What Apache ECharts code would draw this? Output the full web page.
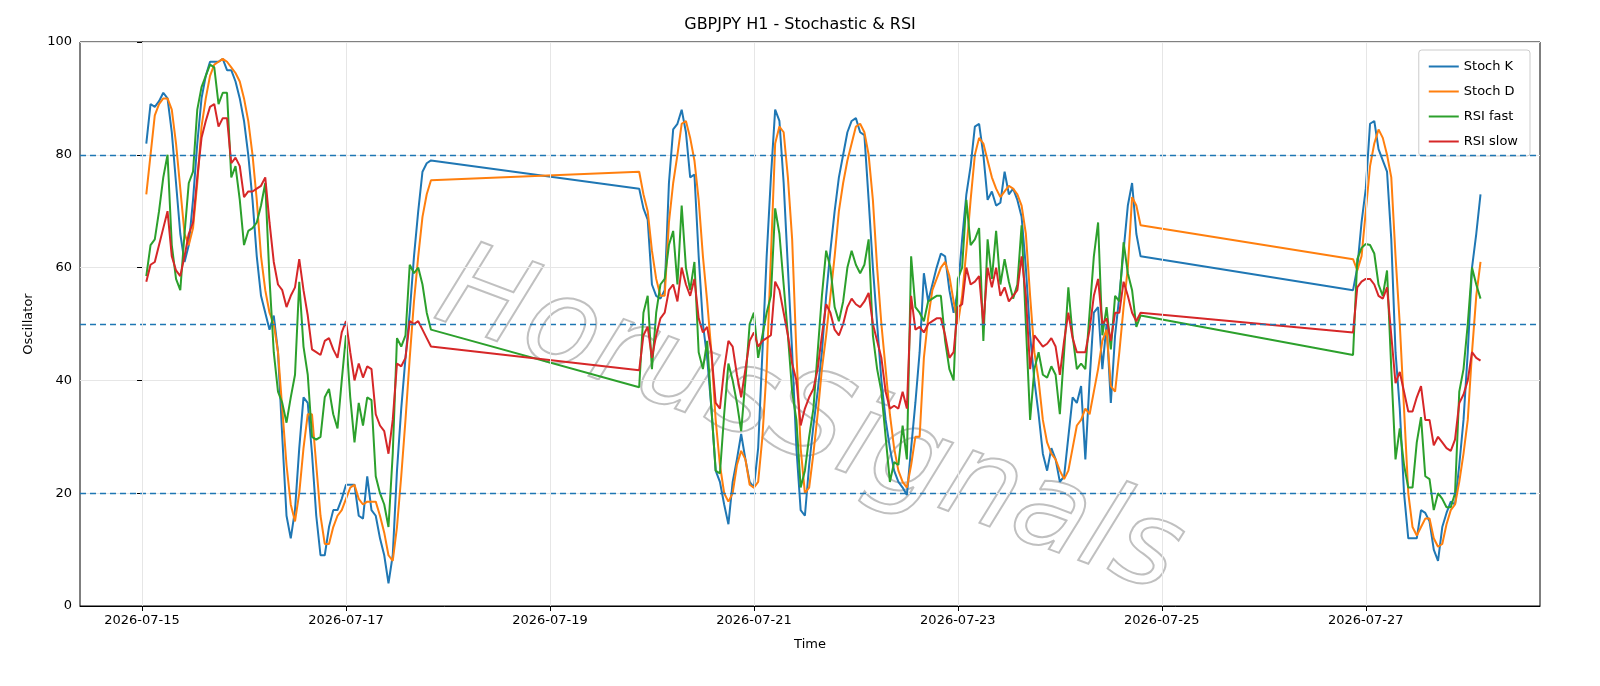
<!DOCTYPE html>
<html><head><meta charset="utf-8">
<script src="https://cdn.jsdelivr.net/npm/echarts@6/dist/echarts.min.js"></script>
<style>html,body{margin:0;padding:0;background:#fff}#c{width:1600px;height:686px}</style>
</head><body><div id="c"></div>
<script>
// hour offsets from 2026-07-15 00:00 of the first bar of each segment (hourly bars)
const segStarts = [1, 117, 285];
const dateTicks = ['2026-07-15','2026-07-17','2026-07-19','2026-07-21','2026-07-23','2026-07-25','2026-07-27'];
const levels = [20, 50, 80];

const stochK1 = [82,89,88.5,89.5,91,90,84,75,66,61,64,72,82,90,94,96.5,96.5,96.5,97,95,95,93,90,86,80,72,62,55,52,49,51.5,45,30,16,12,17,28,37,36,27,16,9,9,14,17,17,19,21.5,21.5,21.5,16,15.5,23,17,16,12,9,4,9,24,35,44,52,62,70,77,78.5,79];
const stochD1 = [73,80,87,89,90,90,88,82,74,66,64,67,75,85,90,94,96,96.5,97,96.5,95.5,94.5,93,90,86,80,72,62,56,52,50,45,35,25,18,15,20,28,34,34,25,16,11,11,14,16,17,19,21,21.5,19,18,18.5,18.5,18.5,16,13,9,8,14,23,33,44,54,62,69,73,75.5];
const rsiFast1 = [58.5,64,65,70,76,80,64,58,56,66,75,77,88,92,94,96,95.5,89,91,91,76,78,72,64,66.5,67,68,71,75,58,45,38,36,32.5,37,41,57.5,46,41,30,29.5,30,37,38.5,34,31.5,40,48,37,29,36,32,37,36.5,23,20,18,14,27,47.5,46,48,60.5,59,60,57,52,49];
const rsiSlow1 = [57.5,60.5,61,64,67,70,62,59.5,58.5,62,66,68,76,83,86,88.5,89,85,86.5,86.5,78.5,79.5,78,72.5,73.5,73.5,74,74.5,76,68,61,57,56,53,55,56.5,61.5,56,51.5,45.5,45,44.5,47,47.5,45.5,44,48.5,50.5,45,40,43,40.5,42.5,42,34,32,31,27,33,43,42.5,44,50.5,50,50.5,49,47.5,46];

const stochK2 = [74,70.5,68.5,57,55,54.5,56,75,84.5,85.5,88,84,76,76.5,62,50,44,35,24,22,18,14.5,22,26,30.5,26,22,21,28,
 45,62,76,88,86,75,60,45,28,17,16,25,32,38,45,55,63,70,76,80,84,86,86.5,84,83.5,72,60,50,40,33,28,24,22,21,19.7,28,36,
 45,59,54,57,60,62.5,62,56,52,56,65,73,78,85,85.5,80,72,73.5,71,71.5,77,73,74,72,69,60,48,40,34,27,24,28,26,22,23,30,37,36,
 39,26,40,52,53,42,50,36,48,55,63,71,75,66,62];
const stochD2 = [77,73,70,63,58,55,55,68,75,80,85.5,86,83,79,72,62,54,45,33,25,20,18.5,20,25,27.5,26,21.5,21,22,
 30,42,62,82,85,84,76,65,45,28,20,21,27,34,42,48,55,62,70,75,79,82,85,85.5,84,80,72,60,50,42,34,28,24,22,21,25,30,
 30,44,51,56,58,60,61,58.5,54,50,55,63,72,80,83,82,79,76,74,72.5,73.5,74.5,74,73,71,66,55,45,40,33,29,27,26,24,22.5,24,28,32,
 33,35,34,38,42,47,49,39,38,45,53,60,72.5,71,67.5];
const rsiFast2 = [38.8,52,55,42,52,57,58,64,66.5,57,71,60,56,61,45,42,47,35,24,23.5,34,43,40,36,31,40,50,52,44,
 48,52,55,70.5,66,57,48,38,33,21,24,30,35,45,55,63,60,53,50.5,54,60,63,60.5,59,60.5,65,48,42,38,30,22,25.5,25,32,26,62,53,
 52,50.5,54,54.5,55,55,47,42,40,58,60,72,64,65,67,47,65,58,66.5,57,61.5,57.5,54.5,57,67.5,50,33,42,45,41,40.5,42.5,41,34,45,56.5,48,42,
 43,42,52,62,68,48,53,45.5,55,54,64.5,59,56,49.5,51.5];
const rsiSlow2 = [41.8,48,49.5,44,48,51,52,56,57,54,60,57,55,58,51,48.5,49.5,45,36,35,42,47,46,41,37,42,47,48.5,46,
 47,47.5,48,57.5,56,52,48,43,40,32,35,37,38.5,42,48,53.5,52,49,48,50,53,54.5,53.5,53,54,55.5,50,47,44,38,35,35.5,35,38,35,55,49,
 49.5,48.5,50,50.5,51,51,48,44,45,53,53.5,60,57,57.5,58.5,50,60,56.5,60,55,56.5,54,55,56,62,55,42,48,47,46,46.5,47.5,46,41,47,52,47.5,45,
 45,45,49,55,58,50,51,47,52,52,57.5,55,52,50.5,52];

const stochK3 = [56,60,68,74,85.5,86,81,79,77,65,45,35,20,12,12,12,17,16.5,15,10,8,14,16.5,18.5,18,25,33,45,60,66,73];
const stochD3 = [61.5,59.5,62,70,78,82,84.5,83,80,76,62,50,35,20,14,12.5,14,15.5,15.5,12,10.5,11,14.5,17,18,22,27,33,45,55,61];
const rsiFast3 = [44.5,61.5,63.5,64.2,64,62.5,57,55,59.5,42,26,31.5,25,21,21,29,33.5,23,22.5,17,20,19,17.5,17.5,20,38,42,50,60,57,54.5];
const rsiSlow3 = [48.5,56.5,57.5,58,58,57,55,54.5,56.5,48,39.5,41.5,38,34.5,34.5,37,39,33,33,28.5,30,29,28,27.5,29.5,36,37.5,40,45,44,43.5];

function build(segs){
  const out=[];
  segs.forEach((arr,si)=>arr.forEach((v,i)=>out.push([segStarts[si]+i, v])));
  return out;
}
const base = Date.UTC(2026,6,15);
function fmt(h){const d=new Date(base+h*3600000);return d.getUTCFullYear()+'-'+String(d.getUTCMonth()+1).padStart(2,'0')+'-'+String(d.getUTCDate()).padStart(2,'0');}
const tickHours = dateTicks.map(s=>{const p=s.split('-');return (Date.UTC(+p[0],+p[1]-1,+p[2])-base)/3600000;});

const chart = echarts.init(document.getElementById('c'));
const lineW = 2;
chart.setOption({
  animation:false,
  backgroundColor:'#fff',
  title:{text:'GBPJPY H1 - Stochastic & RSI',left:'center',top:12,textStyle:{fontSize:16,fontWeight:'normal',color:'#000',fontFamily:'DejaVu Sans'}},
  grid:{left:80,right:60,top:42,bottom:80,show:true,borderColor:'#000',borderWidth:1,backgroundColor:'transparent'},
  legend:{orient:'vertical',right:70,top:50,data:['Stoch K','Stoch D','RSI fast','RSI slow'],icon:'rect',itemWidth:30,itemHeight:2,itemGap:12,
    borderColor:'#ccc',borderWidth:1,borderRadius:3,padding:[10,12,8,10],backgroundColor:'rgba(255,255,255,0.85)',
    textStyle:{fontSize:13,color:'#000',fontFamily:'DejaVu Sans'}},
  graphic:[{type:'text',left:420,top:230,rotation:-0.36,z:0,
    style:{text:'HorusSignals',fontSize:120,fontStyle:'italic',fontFamily:'DejaVu Sans',fill:'rgba(255,255,255,0)',stroke:'rgba(140,140,140,0.55)',lineWidth:2}}],
  xAxis:{type:'value',min:-14.6,max:329,name:'Time',nameLocation:'middle',nameGap:32,nameTextStyle:{fontSize:13,color:'#000',fontFamily:'DejaVu Sans'},
    axisLine:{lineStyle:{color:'#000'}},splitLine:{show:false},
    axisTick:{customValues:tickHours,lineStyle:{color:'#000'},length:5},
    axisLabel:{customValues:tickHours,formatter:v=>fmt(v),fontSize:13,color:'#000',fontFamily:'DejaVu Sans',margin:8}},
  yAxis:{type:'value',min:0,max:100,interval:20,name:'Oscillator',nameLocation:'middle',nameGap:45,nameTextStyle:{fontSize:13,color:'#000',fontFamily:'DejaVu Sans'},
    axisLine:{show:true,lineStyle:{color:'#000'}},axisTick:{show:true,length:5,lineStyle:{color:'#000'}},
    axisLabel:{fontSize:13,color:'#000',fontFamily:'DejaVu Sans'},
    splitLine:{lineStyle:{color:'#e6e6e6',width:1}}},
  series:[
    {name:'Stoch K',type:'line',data:build([stochK1,stochK2,stochK3]),showSymbol:false,lineStyle:{width:lineW,color:'#1f77b4'},itemStyle:{color:'#1f77b4'},
      markLine:{silent:true,symbol:'none',label:{show:false},lineStyle:{color:'#1f77b4',type:[6,4],width:1.3},
        data:levels.map(v=>({yAxis:v})).concat(tickHours.map(h=>({xAxis:h,lineStyle:{color:'#e6e6e6',type:'solid',width:1}})))}},
    {name:'Stoch D',type:'line',data:build([stochD1,stochD2,stochD3]),showSymbol:false,lineStyle:{width:lineW,color:'#ff7f0e'},itemStyle:{color:'#ff7f0e'}},
    {name:'RSI fast',type:'line',data:build([rsiFast1,rsiFast2,rsiFast3]),showSymbol:false,lineStyle:{width:lineW,color:'#2ca02c'},itemStyle:{color:'#2ca02c'}},
    {name:'RSI slow',type:'line',data:build([rsiSlow1,rsiSlow2,rsiSlow3]),showSymbol:false,lineStyle:{width:lineW,color:'#d62728'},itemStyle:{color:'#d62728'}}
  ]
});
</script></body></html>
